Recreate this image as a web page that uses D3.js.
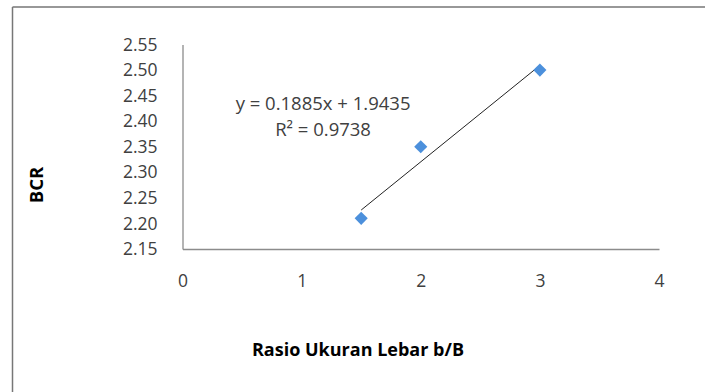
<!DOCTYPE html>
<html>
<head>
<meta charset="utf-8">
<script src="https://cdn.jsdelivr.net/npm/d3@7"></script>
<style>
  body { margin: 0; background: #fff; }
  svg { display: block; font-family: "Open Sans", sans-serif; }
</style>
</head>
<body>
<svg width="705" height="392"></svg>
<script>
// data
const ratios = [1.5, 2, 3];
const bcr = [2.21, 2.35, 2.50];
const xTicks = [0, 1, 2, 3, 4];
const yTicks = [2.15, 2.20, 2.25, 2.30, 2.35, 2.40, 2.45, 2.50, 2.55];
const slope = 0.1885, intercept = 1.9435, r2 = 0.9738;

const svg = d3.select('svg');
const margin = {top: 44.5, right: 46, bottom: 143, left: 182.5};
const width = 705 - margin.left - margin.right,
      height = 392 - margin.top - margin.bottom;

// chart frame (cropped in reference: only top and left edges)
svg.append('line').attr('x1', 12.5).attr('x2', 705).attr('y1', 7).attr('y2', 7)
    .attr('stroke', '#333').attr('stroke-width', 1.2);
svg.append('line').attr('x1', 12.5).attr('x2', 12.5).attr('y1', 7).attr('y2', 392)
    .attr('stroke', '#777').attr('stroke-width', 1.5);

const x = d3.scaleLinear().domain([0, 4]).range([0, width]);
const y = d3.scaleLinear().domain([2.15, 2.55]).range([height, 0]);

const g = svg.append('g')
    .attr('transform', 'translate(' + margin.left + ',' + margin.top + ')');

const xAxis = g.append('g')
    .attr('transform', 'translate(0,' + height + ')')
    .call(d3.axisBottom(x).tickValues(xTicks).tickSize(0).tickPadding(32).tickFormat(d3.format('d')));
const yAxis = g.append('g')
    .call(d3.axisLeft(y).tickValues(yTicks).tickSize(0).tickPadding(25).tickFormat(d3.format('.2f')));

[xAxis, yAxis].forEach(a => {
  a.select('.domain').attr('stroke', '#8c8c8c').attr('stroke-width', 1.3);
  a.selectAll('text').attr('fill', '#404040').style('font-size', '17.5px')
      .style('font-family', '"Open Sans", sans-serif');
});
xAxis.selectAll('text').attr('dy', '0.35em');

// trend line
g.append('line')
    .attr('x1', x(d3.min(ratios))).attr('y1', y(slope * d3.min(ratios) + intercept))
    .attr('x2', x(d3.max(ratios))).attr('y2', y(slope * d3.max(ratios) + intercept))
    .attr('stroke', '#222').attr('stroke-width', 1);

// markers
g.selectAll('.pt').data(ratios).enter().append('path')
    .attr('class', 'pt')
    .attr('d', d3.symbol(d3.symbolDiamond2, 110))
    .attr('transform', (d, i) => 'translate(' + x(d) + ',' + y(bcr[i]) + ')')
    .attr('fill', '#4c90dc');

// equation label
const eq = g.append('text')
    .attr('x', x(1.18)).attr('text-anchor', 'middle')
    .attr('fill', '#404040').style('font-size', '18.5px');
eq.append('tspan').attr('x', x(1.18)).attr('y', 65)
    .text('y = ' + slope + 'x + ' + intercept);
eq.append('tspan').attr('x', x(1.18)).attr('y', 91)
    .text('R² = ' + r2);

// axis titles
svg.append('text')
    .attr('transform', 'translate(43,185) rotate(-90)')
    .attr('text-anchor', 'middle')
    .attr('fill', '#000').style('font-weight', 'bold').style('font-size', '18.5px')
    .text('BCR');
svg.append('text')
    .attr('x', 358).attr('y', 356)
    .attr('text-anchor', 'middle')
    .attr('fill', '#000').style('font-weight', 'bold').style('font-size', '18px')
    .text('Rasio Ukuran Lebar b/B');
</script>
</body>
</html>
